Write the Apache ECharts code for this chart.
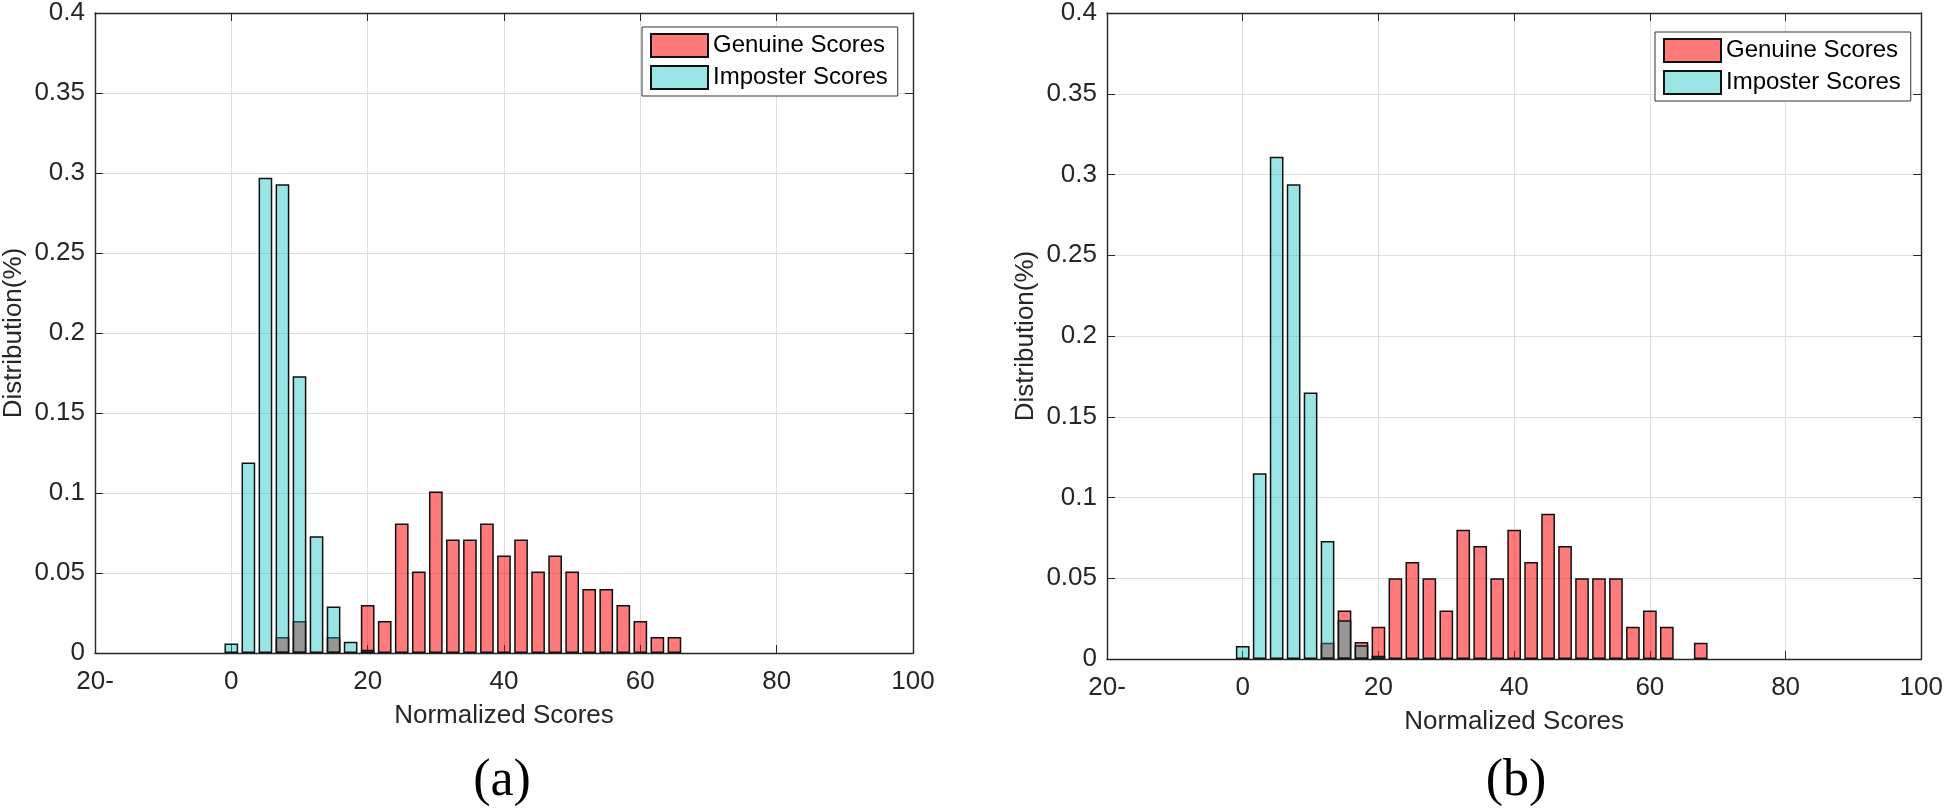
<!DOCTYPE html>
<html>
<head>
<meta charset="utf-8">
<title>Score distribution</title>
<script src="https://cdn.jsdelivr.net/npm/echarts@6/dist/echarts.min.js"></script>
<style>
  html, body { margin: 0; padding: 0; background: #fff; }
  #main { width: 1946px; height: 808px; }
</style>
</head>
<body>
<div id="main"></div>
<script>
// bin centres and heights
var genuineXA = [7.5, 10, 15, 20, 22.5, 25, 27.5, 30, 32.5, 35, 37.5, 40, 42.5, 45, 47.5, 50, 52.5, 55, 57.5, 60, 62.5, 65]
var genuineYA = [0.01, 0.02, 0.01, 0.03, 0.02, 0.081, 0.051, 0.101, 0.071, 0.071, 0.081, 0.061, 0.071, 0.051, 0.061, 0.051, 0.04, 0.04, 0.03, 0.02, 0.01, 0.01]
var imposterXA = [0, 2.5, 5, 7.5, 10, 12.5, 15, 17.5, 20]
var imposterYA = [0.006, 0.119, 0.297, 0.293, 0.173, 0.073, 0.029, 0.007, 0.002]

var genuineXB = [12.5, 15, 17.5, 20, 22.5, 25, 27.5, 30, 32.5, 35, 37.5, 40, 42.5, 45, 47.5, 50, 52.5, 55, 57.5, 60, 62.5, 67.5]
var genuineYB = [0.01, 0.03, 0.0105, 0.02, 0.05, 0.06, 0.05, 0.03, 0.08, 0.07, 0.05, 0.08, 0.06, 0.09, 0.07, 0.05, 0.05, 0.05, 0.02, 0.03, 0.02, 0.01]
var imposterXB = [0, 2.5, 5, 7.5, 10, 12.5, 15, 17.5, 20]
var imposterYB = [0.008, 0.115, 0.311, 0.294, 0.165, 0.073, 0.024, 0.0085, 0.002]

var xTickLabels = ['20-', '0', '20', '40', '60', '80', '100']
var seriesNames = ['Genuine Scores', 'Imposter Scores']
var panelLabels = ['(a)', '(b)']

var font = '"Liberation Sans", Arial, Helvetica, sans-serif'
var serif = '"Liberation Serif", "DejaVu Serif", serif'
var axisColor = '#262626'
var red = 'rgba(255,0,0,0.52)'
var cyan = 'rgba(0,191,191,0.4)'

function pairs(xs, ys) {
    var out = []
    for (var i = 0; i < xs.length; i++) out.push([xs[i], ys[i]])
    return out
}

//主坐标轴 x
function mainX(grid) {
    return {
        type: 'value', gridIndex: grid, position: 'bottom',
        min: -20, max: 100, interval: 20,
        name: 'Normalized Scores', nameLocation: 'middle', nameGap: 50,
        nameTextStyle: { fontSize: 26, color: axisColor, fontFamily: font },
        axisLine: { show: true, onZero: false, lineStyle: { color: axisColor, width: 1.4 } },
        axisTick: { show: true, inside: true, length: 8, lineStyle: { color: axisColor } },
        axisLabel: {
            fontSize: 26, color: axisColor, fontFamily: font, margin: 16,
            formatter: function (v) { return xTickLabels[Math.round((v + 20) / 20)] }
        },
        splitLine: { show: true, lineStyle: { color: '#dedede', width: 1 } }
    }
}
function topX(grid) {
    return {
        type: 'value', gridIndex: grid, position: 'top',
        min: -20, max: 100, interval: 20,
        axisLine: { show: true, onZero: false, lineStyle: { color: axisColor, width: 1.4 } },
        axisTick: { show: true, inside: true, length: 8, lineStyle: { color: axisColor } },
        axisLabel: { show: false },
        splitLine: { show: false }
    }
}
function mainY(grid) {
    return {
        type: 'value', gridIndex: grid, position: 'left',
        min: 0, max: 0.4, interval: 0.05,
        name: 'Distribution(%)', nameLocation: 'middle', nameGap: 68,
        nameTextStyle: { fontSize: 26, color: axisColor, fontFamily: font },
        axisLine: { show: true, onZero: false, lineStyle: { color: axisColor, width: 1.4 } },
        axisTick: { show: true, inside: true, length: 8, lineStyle: { color: axisColor } },
        axisLabel: { fontSize: 26, color: axisColor, fontFamily: font, margin: 10 },
        splitLine: { show: true, lineStyle: { color: '#dedede', width: 1 } }
    }
}
function rightY(grid) {
    return {
        type: 'value', gridIndex: grid, position: 'right',
        min: 0, max: 0.4, interval: 0.05,
        axisLine: { show: true, onZero: false, lineStyle: { color: axisColor, width: 1.4 } },
        axisTick: { show: true, inside: true, length: 8, lineStyle: { color: axisColor } },
        axisLabel: { show: false },
        splitLine: { show: false }
    }
}
function bars(name, data, color, xi, yi) {
    return {
        name: name, type: 'bar', xAxisIndex: xi, yAxisIndex: yi,
        data: data, barWidth: 13.7, barGap: '-100%',
        itemStyle: { color: color, borderColor: '#111', borderWidth: 1.5 }
    }
}
function legendAt(left, top) {
    return {
        left: left, top: top, orient: 'vertical', icon: 'rect',
        data: seriesNames,
        itemWidth: 57, itemHeight: 23, itemGap: 7,
        padding: [6, 10, 6, 8],
        borderColor: '#333', borderWidth: 1, backgroundColor: '#fff',
        textStyle: { fontSize: 24, color: '#000', fontFamily: font }
    }
}
function panelLabel(text, x) {
    return {
        type: 'text', x: x, y: 781,
        style: { text: text, fontSize: 52, fontFamily: serif, fill: '#000', textAlign: 'center', textVerticalAlign: 'middle' }
    }
}

var chart = echarts.init(document.getElementById('main'))
var option = {
    animation: false,
    backgroundColor: '#fff',
    grid: [
        { left: 93, top: 7, width: 820, height: 646 },
        { left: 1107, top: 13, width: 819, height: 646 }
    ],
    xAxis: [mainX(0), topX(0), mainX(1), topX(1)],
    yAxis: [mainY(0), rightY(0), mainY(1), rightY(1)],
    legend: [legendAt(642, 27), legendAt(1655, 32)],
    series: [
        bars(seriesNames[0], pairs(genuineXA, genuineYA), red, 0, 0),
        bars(seriesNames[1], pairs(imposterXA, imposterYA), cyan, 0, 0),
        bars(seriesNames[0], pairs(genuineXB, genuineYB), red, 2, 2),
        bars(seriesNames[1], pairs(imposterXB, imposterYB), cyan, 2, 2)
    ],
    graphic: [panelLabel(panelLabels[0], 502), panelLabel(panelLabels[1], 1516)]
}
chart.setOption(option)
window.addEventListener('resize', function () { chart.resize() })
</script>
</body>
</html>
